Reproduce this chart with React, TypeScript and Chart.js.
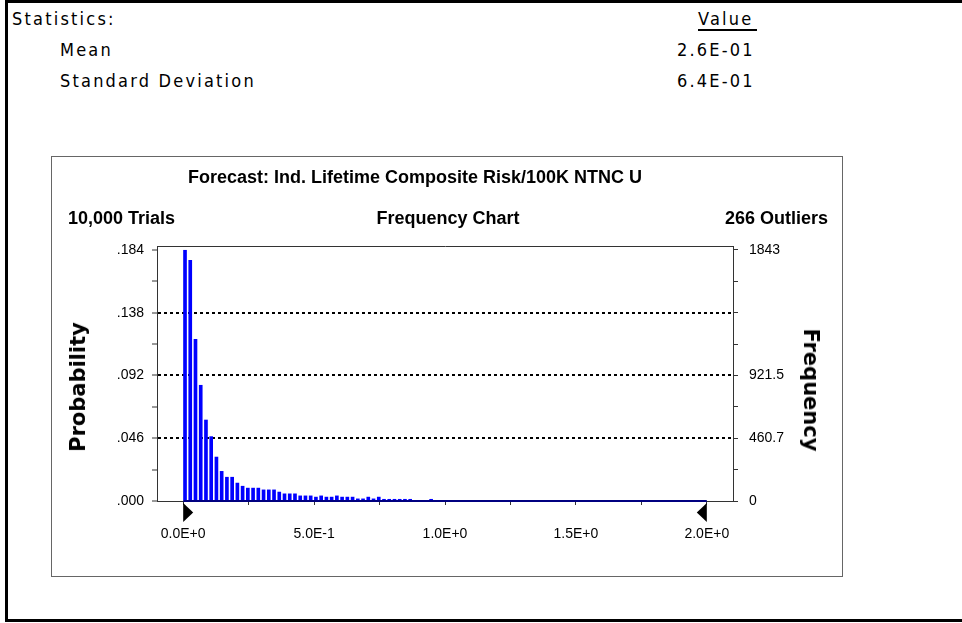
import React, { useEffect, useRef } from "react";
import { Chart, registerables } from "chart.js";

Chart.register(...registerables);

// ---- data ----
const BIN_WIDTH = 0.02;
const BAR_OFFSET = 0.007;
const binCounts = [
  1843, 1770, 1189, 852, 597, 475, 325, 220, 177, 177,
  134, 111, 97, 97, 97, 84, 84, 84, 68, 55,
  55, 55, 40, 40, 40, 31, 40, 31, 31, 40,
  31, 31, 31, 18, 18, 31, 18, 31, 15, 15,
  15, 15, 15, 15, 0, 0, 0, 15,
];
const baselineRange = [0, 2.0];
const certaintyMarkers = [0, 2.0];

const yTickValues = [0, 230.4, 460.7, 691.1, 921.5, 1151.9, 1382.3, 1612.6, 1843];
const probLabels = [".000", "", ".046", "", ".092", "", ".138", "", ".184"];
const freqLabels = ["0", "", "460.7", "", "921.5", "", "", "", "1843"];
const dottedGridIdx = [2, 4, 6];

const xTickValues = [0, 0.25, 0.5, 0.75, 1.0, 1.25, 1.5, 1.75, 2.0];
const xTickLabels = ["0.0E+0", "", "5.0E-1", "", "1.0E+0", "", "1.5E+0", "", "2.0E+0"];

const X_MIN = -0.1;
const X_MAX = 2.1;
const Y_MAX = 1872;

const statsRows = [
  { label: "Mean", value: "2.6E-01" },
  { label: "Standard Deviation", value: "6.4E-01" },
];

const tickFont = { family: '"Liberation Sans", Arial, sans-serif', size: 14 };

const markerPlugin = {
  id: "certaintyMarkers",
  afterDatasetsDraw(chart: any) {
    const { ctx, chartArea, scales } = chart;
    const xs = scales.x;
    ctx.save();
    ctx.fillStyle = "#000";
    certaintyMarkers.forEach((v, i) => {
      const px = xs.getPixelForValue(v);
      const top = chartArea.bottom + 2;
      const h = 19;
      const w = 10;
      const dir = i === 0 ? 1 : -1;
      ctx.beginPath();
      ctx.moveTo(px, top);
      ctx.lineTo(px + dir * w, top + h / 2);
      ctx.lineTo(px, top + h);
      ctx.closePath();
      ctx.fill();
    });
    ctx.restore();
  },
};

function FrequencyChart() {
  const ref = useRef<HTMLCanvasElement | null>(null);
  useEffect(() => {
    if (!ref.current) return;
    const chart = new Chart(ref.current, {
      type: "bar",
      data: {
        datasets: [
          {
            type: "line",
            data: baselineRange.map((x) => ({ x, y: 0 })),
            borderColor: "#000080",
            borderWidth: 2,
            pointRadius: 0,
            clip: false,
            order: 0,
            xAxisID: "x",
            yAxisID: "y",
          } as any,
          {
            type: "bar",
            data: binCounts.map((c, i) => ({ x: i * BIN_WIDTH + BAR_OFFSET, y: c })),
            backgroundColor: "#0000ff",
            borderWidth: 0,
            barPercentage: 0.7,
            categoryPercentage: 1,
            order: 1,
            xAxisID: "x",
            yAxisID: "y",
          } as any,
        ],
      },
      options: {
        animation: false,
        responsive: false,
        devicePixelRatio: 1,
        layout: { padding: { top: 89, bottom: 0, left: 0, right: 0 } },
        plugins: {
          legend: { display: false },
          tooltip: { enabled: false },
          title: { display: false },
        },
        scales: {
          x: {
            type: "linear",
            position: "bottom",
            min: X_MIN,
            max: X_MAX,
            offset: false,
            afterBuildTicks: (s: any) => {
              s.ticks = xTickValues.map((value) => ({ value }));
            },
            afterFit: (s: any) => {
              s.height = 75;
            },
            ticks: {
              autoSkip: false,
              maxRotation: 0,
              padding: 21,
              color: "#000",
              font: tickFont,
              callback: (_v: any, i: number) => xTickLabels[i],
            },
            grid: { offset: false, drawOnChartArea: false, tickLength: 4, tickColor: "#333", tickWidth: 1 },
            border: { color: "#333", width: 1 },
          },
          x2: {
            type: "linear",
            position: "top",
            min: X_MIN,
            max: X_MAX,
            offset: false,
            afterFit: (s: any) => {
              s.height = 0;
            },
            ticks: { display: false },
            grid: { display: false, drawTicks: false, offset: false },
            border: { display: true, color: "#333", width: 1 },
          },
          y: {
            type: "linear",
            position: "left",
            min: 0,
            max: Y_MAX,
            afterBuildTicks: (s: any) => {
              s.ticks = yTickValues.map((value) => ({ value }));
            },
            afterFit: (s: any) => {
              s.width = 105;
            },
            ticks: {
              autoSkip: false,
              padding: 8,
              color: "#000",
              font: tickFont,
              callback: (_v: any, i: number) => probLabels[i],
            },
            grid: {
              drawOnChartArea: true,
              color: (c: any) => (dottedGridIdx.includes(c.index) ? "#000" : "rgba(0,0,0,0)"),
              lineWidth: 2,
              tickLength: 5,
              tickColor: "#333",
              tickWidth: 1,
            },
            border: { color: "#333", width: 1, dash: [3, 3] },
          },
          y1: {
            type: "linear",
            position: "right",
            min: 0,
            max: Y_MAX,
            afterBuildTicks: (s: any) => {
              s.ticks = yTickValues.map((value) => ({ value }));
            },
            afterFit: (s: any) => {
              s.width = 109;
            },
            ticks: {
              autoSkip: false,
              padding: 11,
              color: "#000",
              font: tickFont,
              callback: (_v: any, i: number) => freqLabels[i],
            },
            grid: { drawOnChartArea: false, tickLength: 5, tickColor: "#333", tickWidth: 1 },
            border: { color: "#333", width: 1 },
          },
        },
      } as any,
      plugins: [markerPlugin],
    });
    return () => chart.destroy();
  }, []);
  return (
    <canvas
      ref={ref}
      width={790}
      height={419}
      style={{ position: "absolute", left: 0, top: 0, width: 790, height: 419 }}
    />
  );
}

const statsFont: React.CSSProperties = {
  position: "absolute",
  fontFamily: '"DejaVu Sans Condensed", "DejaVu Sans", sans-serif',
  fontStretch: "condensed",
  fontSize: 18,
  letterSpacing: "2.2px",
  lineHeight: "20px",
  color: "#000",
  whiteSpace: "nowrap",
};

const boldFont: React.CSSProperties = {
  position: "absolute",
  fontFamily: '"Liberation Sans", Arial, sans-serif',
  fontWeight: "bold",
  fontSize: 18,
  lineHeight: "20px",
  color: "#000",
  whiteSpace: "nowrap",
};

const axisTitleFont: React.CSSProperties = {
  position: "absolute",
  fontFamily: '"DejaVu Sans", sans-serif',
  fontWeight: "bold",
  fontSize: 21,
  lineHeight: "24px",
  color: "#000",
  whiteSpace: "nowrap",
};

export default function App() {
  return (
    <div
      style={{
        position: "absolute",
        left: 0,
        top: 0,
        width: 962,
        height: 623,
        overflow: "hidden",
        background: "#fff",
      }}
    >
      <div
        style={{
          position: "absolute",
          left: 5,
          top: 0,
          width: 1100,
          height: 622,
          boxSizing: "border-box",
          borderLeft: "3px solid #000",
          borderTop: "3px solid #000",
          borderBottom: "3px solid #000",
        }}
      />
      <div style={{ ...statsFont, left: 12, top: 9 }}>Statistics:</div>
      <div style={{ ...statsFont, left: 698, top: 9 }}>Value</div>
      <div style={{ position: "absolute", left: 698, top: 29, width: 59, height: 2, background: "#000" }} />
      {statsRows.map((r, i) => (
        <React.Fragment key={r.label}>
          <div style={{ ...statsFont, left: 60, top: 40 + i * 31 }}>{r.label}</div>
          <div style={{ ...statsFont, left: 677, top: 40 + i * 31 }}>{r.value}</div>
        </React.Fragment>
      ))}

      <div
        style={{
          position: "absolute",
          left: 51,
          top: 156,
          width: 792,
          height: 421,
          boxSizing: "border-box",
          border: "1px solid #666",
        }}
      >
        <FrequencyChart />
      </div>

      <div style={{ ...boldFont, left: 415, top: 167, transform: "translateX(-50%)" }}>
        Forecast: Ind. Lifetime Composite Risk/100K NTNC U
      </div>
      <div style={{ ...boldFont, left: 68, top: 208 }}>10,000 Trials</div>
      <div style={{ ...boldFont, left: 448, top: 208, transform: "translateX(-50%)" }}>Frequency Chart</div>
      <div style={{ ...boldFont, left: 828, top: 208, transform: "translateX(-100%)" }}>266 Outliers</div>

      <div
        style={{
          ...axisTitleFont,
          left: 78,
          top: 387,
          transform: "translate(-50%, -50%) rotate(-90deg)",
        }}
      >
        Probability
      </div>
      <div
        style={{
          ...axisTitleFont,
          left: 811,
          top: 390,
          transform: "translate(-50%, -50%) rotate(90deg)",
        }}
      >
        Frequency
      </div>
    </div>
  );
}
